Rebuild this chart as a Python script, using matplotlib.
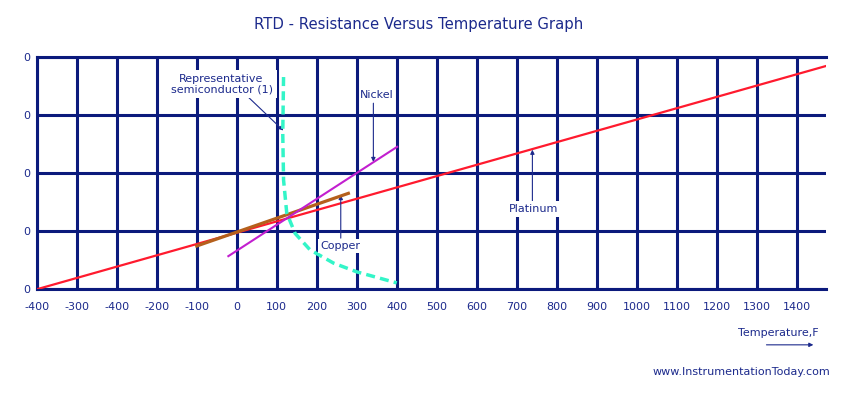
import matplotlib
matplotlib.use("Agg")
import matplotlib.pyplot as plt

# temperature gridlines (the original chart labels the first two ticks oddly)
tempTicks = [-500, -400, -300, -200, -100, 0, 100, 200, 300, 400, 500, 600, 700,
             800, 900, 1000, 1100, 1200, 1300, 1400]
tempTickLabels = ["-400", "-300", "-400", "-200", "-100", "0", "100", "200", "300",
                  "400", "500", "600", "700", "800", "900", "1000", "1100", "1200",
                  "1300", "1400"]
resTicks = [0, 1, 2, 3, 4]
resTickLabels = ["0", "0", "0", "0", "0"]

# resistance curves (relative units)
platinumT = [-500, 1473]
platinumR = [0.0, 3.84]
copperT = [-100, 279]
copperR = [0.745, 1.65]
nickelT = [-21, 401]
nickelR = [0.57, 2.45]
semiT = [117, 115, 117, 125, 146, 183, 242, 300, 400]
semiR = [3.65, 2.68, 1.88, 1.31, 0.96, 0.68, 0.45, 0.30, 0.11]

NAVY = "#0b1a7c"
TEXT = "#1c2a8c"

fig = plt.figure(figsize=(8.6, 3.95), dpi=100)
ax = fig.add_axes([0.0427, 0.2676, 0.9605 - 0.0427, 0.8565 - 0.2676])

ax.set_xlim(-500, 1473)
ax.set_ylim(0, 4)
ax.set_xticks(tempTicks)
ax.set_xticklabels(tempTickLabels)
ax.set_yticks(resTicks)
ax.set_yticklabels(resTickLabels)
ax.tick_params(axis="x", length=0, pad=9, labelsize=8, labelcolor=TEXT)
ax.tick_params(axis="y", length=0, pad=5, labelsize=8, labelcolor=TEXT)
ax.grid(True, color=NAVY, linewidth=2.2)
ax.set_axisbelow(True)

for side in ["left", "top", "bottom"]:
    ax.spines[side].set_color(NAVY)
    ax.spines[side].set_linewidth(2.2)
ax.spines["right"].set_visible(False)

ax.plot(platinumT, platinumR, color="#ff1a2e", linewidth=1.6, zorder=3)
ax.plot(copperT, copperR, color="#b5601c", linewidth=2.3, zorder=4)
ax.plot(nickelT, nickelR, color="#c21fcf", linewidth=1.5, zorder=4)
ax.plot(semiT, semiR, color="#33f5c8", linewidth=2.5, dashes=(2.6, 1.5), zorder=4)

arrow = dict(arrowstyle="-|>", color=TEXT, linewidth=0.8, mutation_scale=6,
             shrinkA=0, shrinkB=0)


def whiteBox(pad):
    return dict(facecolor="white", edgecolor="none", pad=pad)


ax.text(-38, 3.53, "Representative\nsemiconductor (1)", ha="center", va="center",
        fontsize=8, color=TEXT, linespacing=1.0, bbox=whiteBox(3), zorder=5)
ax.annotate("", xy=(116.5, 2.73), xytext=(28, 3.31), arrowprops=arrow)
ax.text(350, 3.34, "Nickel", ha="center", va="center", fontsize=8, color=TEXT, zorder=5)
ax.annotate("", xy=(341.5, 2.19), xytext=(341.5, 3.20), arrowprops=arrow)
ax.text(258, 0.745, "Copper", ha="center", va="center", fontsize=8, color=TEXT,
        bbox=whiteBox(1.5), zorder=5)
ax.annotate("", xy=(260, 1.62), xytext=(260, 0.88), arrowprops=arrow)
ax.annotate("", xy=(739, 2.40), xytext=(739, 1.51), arrowprops=arrow)
ax.text(741.5, 1.38, "Platinum", ha="center", va="center", fontsize=8, color=TEXT,
        bbox=whiteBox(2), zorder=5)

fig.text(0.487, 1 - 25 / 395, "RTD - Resistance Versus Temperature Graph",
         ha="center", va="center", fontsize=10.7, color=TEXT)
fig.text(0.905, 0.158, "Temperature,F", ha="center", va="center", fontsize=8, color=TEXT)
fig.patches.append(matplotlib.patches.FancyArrowPatch(
    (0.888, 0.127), (0.949, 0.127), transform=fig.transFigure, arrowstyle="-|>",
    color=TEXT, linewidth=0.8, mutation_scale=6))
fig.text(0.8624, 0.0575, "www.InstrumentationToday.com", ha="center", va="center",
         fontsize=8, color=TEXT)

fig.savefig("out.png", dpi=100)
